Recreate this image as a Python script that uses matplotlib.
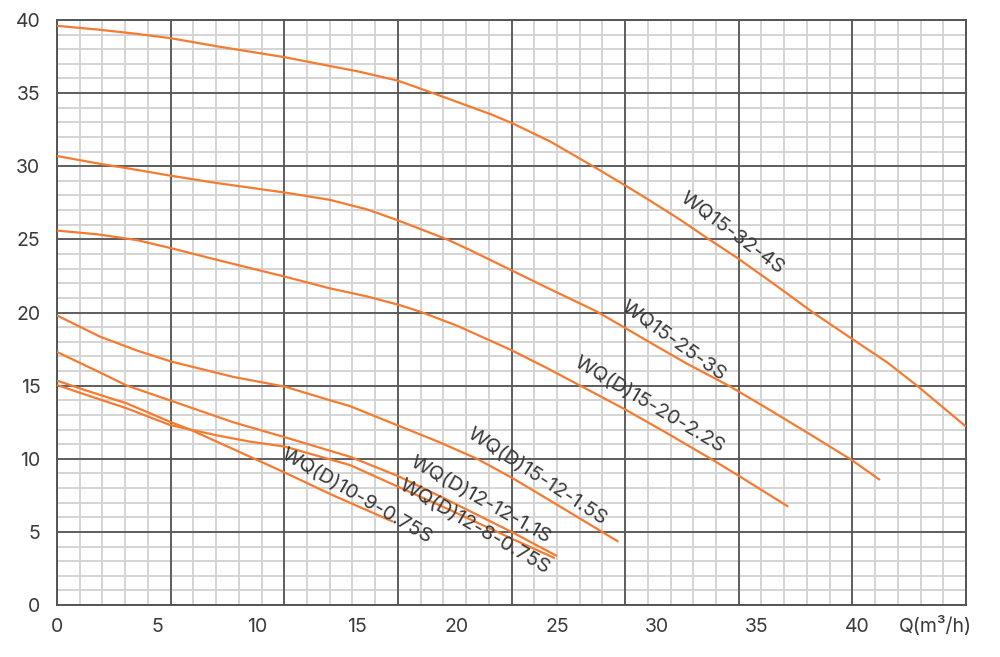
import numpy as np
import matplotlib
matplotlib.use("Agg")
import matplotlib.pyplot as plt

plt.rcParams['font.family'] = ['Inter', 'DejaVu Sans']

# ---- data ----
names = ["WQ15-32-4S", "WQ15-25-3S", "WQ(D)15-20-2.2S", "WQ(D)15-12-1.5S",
         "WQ(D)12-12-1.1S", "WQ(D)12-8-0.75S", "WQ(D)10-9-0.75S"]

q_32 = [0, 2, 4, 5.7, 8, 11.4, 13.65, 15, 17.05, 18.8, 20.8, 21.7, 22.75, 24.65, 26.8,
        28.4, 29.65, 31.15, 32.55, 34.05, 36, 37.8, 39.75, 41.5, 43, 45.45]
h_32 = [39.6, 39.35, 39.05, 38.75, 38.2, 37.45, 36.85, 36.5, 35.85, 35.0, 34.0, 33.55, 32.95, 31.7, 30.0,
        28.7, 27.65, 26.35, 25.05, 23.7, 21.8, 20.0, 18.2, 16.6, 15.0, 12.2]

q_25 = [0, 2, 4, 5.7, 8, 11.4, 13.65, 15.5, 17.05, 19.5, 20.65, 22.7, 24.65, 27.0,
        28.4, 29.65, 31.5, 33.65, 35.5, 37.5, 39.75, 41.15]
h_25 = [30.7, 30.2, 29.75, 29.35, 28.85, 28.2, 27.7, 27.05, 26.3, 25.0, 24.27, 22.9, 21.6, 20.06,
        18.95, 17.95, 16.5, 14.95, 13.45, 11.8, 9.9, 8.55]

q_20 = [0, 2, 4, 5.7, 8, 11.4, 13.65, 15.5, 17.15, 18.15, 20, 22.7, 24.5, 26.2,
        28.4, 30.5, 32.75, 34.07, 36.57]
h_20 = [25.6, 25.35, 24.95, 24.4, 23.6, 22.45, 21.65, 21.1, 20.5, 20.06, 19.1, 17.44, 16.2, 14.97,
        13.38, 11.75, 9.95, 8.85, 6.72]

q_12a = [0, 2.15, 4, 5.7, 8.8, 11.4, 13.65, 14.65, 17.0, 19.0, 21.0, 22.8, 25.5, 28.07]
h_12a = [19.8, 18.35, 17.4, 16.65, 15.6, 14.93, 14.0, 13.6, 12.3, 11.2, 10.0, 8.66, 6.45, 4.33]

q_12b = [0, 2, 3.5, 5.7, 8.8, 11.4, 14.65, 17.05, 19.5, 22.8, 25.0]
h_12b = [17.3, 16.0, 15.0, 13.97, 12.5, 11.47, 10.14, 8.82, 7.2, 4.95, 3.35]

q_8 = [0, 1.5, 3.48, 5.65, 6.65, 8, 9.65, 11.4, 14.65, 17.05, 19.65, 22.8, 24.9]
h_8 = [15.04, 14.35, 13.45, 12.31, 12.0, 11.6, 11.17, 10.83, 9.57, 8.09, 6.5, 4.5, 3.2]

q_9 = [0, 1.5, 3.48, 5.65, 6.65, 9.65, 11.4, 13.8, 16.8]
h_9 = [15.34, 14.65, 13.79, 12.53, 12.0, 10.14, 9.05, 7.5, 5.7]

curves_q = [q_32, q_25, q_20, q_12a, q_12b, q_8, q_9]
curves_h = [h_32, h_25, h_20, h_12a, h_12b, h_8, h_9]

# label placement (data coords) and rotation (screen degrees)
label_x = [33.75, 30.8, 29.6, 24.0, 21.15, 20.85, 15.0]
label_y = [25.4, 18.06, 13.7, 8.77, 7.18, 5.35, 7.46]
label_rot = [-36.6, -35.5, -30.7, -33.1, -29.5, -30.1, -30.2]

x_ticks = [0, 5, 10, 15, 20, 25, 30, 35, 40]
y_ticks = [0, 5, 10, 15, 20, 25, 30, 35, 40]
x_max = 45.45
y_max = 40

orange = "#F47B30"
major_c = "#555555"
minor_c = "#d4d4d4"
text_c = "#3a3a3a"

fig = plt.figure(figsize=(10, 6.57), dpi=100)
ax = fig.add_axes([0.057, 0.0791, 0.909, 0.8905])
ax.set_xlim(0, x_max)
ax.set_ylim(0, y_max)

# grid (vertical grid is independent of the tick labels: 8 cells x 5 subdivisions)
for xv in np.linspace(0, x_max, 41):
    ax.axvline(xv, color=minor_c, lw=1.4, zorder=1)
for yv in np.arange(0, y_max + 0.5, 1):
    ax.axhline(yv, color=minor_c, lw=1.4, zorder=1)
for xv in np.linspace(0, x_max, 9):
    ax.axvline(xv, color=major_c, lw=1.3, zorder=2)
for yv in y_ticks:
    ax.axhline(yv, color=major_c, lw=1.3, zorder=2)

for q, h in zip(curves_q, curves_h):
    ax.plot(q, h, color=orange, lw=1.6, zorder=4, solid_capstyle='butt', solid_joinstyle='round')

for name, lx, ly, r in zip(names, label_x, label_y, label_rot):
    ax.text(lx, ly, name, rotation=r, rotation_mode='anchor', ha='center', va='center',
            fontsize=14.5, color=text_c, zorder=5)

ax.set_xticks(x_ticks)
ax.set_yticks(y_ticks)
ax.set_xticklabels([str(v) for v in x_ticks])
ax.set_yticklabels([str(v) for v in y_ticks])
ax.tick_params(axis='both', length=0, labelsize=14, labelcolor=text_c)
ax.tick_params(axis='x', pad=9)
ax.tick_params(axis='y', pad=12)
for s in ax.spines.values():
    s.set_color(major_c)
    s.set_linewidth(1.4)

ax.text(43.9, -0.036, "Q(m³/h)", transform=ax.get_xaxis_transform(), ha='center', va='center',
        fontsize=14, color=text_c)

fig.savefig("out.png", dpi=100)
